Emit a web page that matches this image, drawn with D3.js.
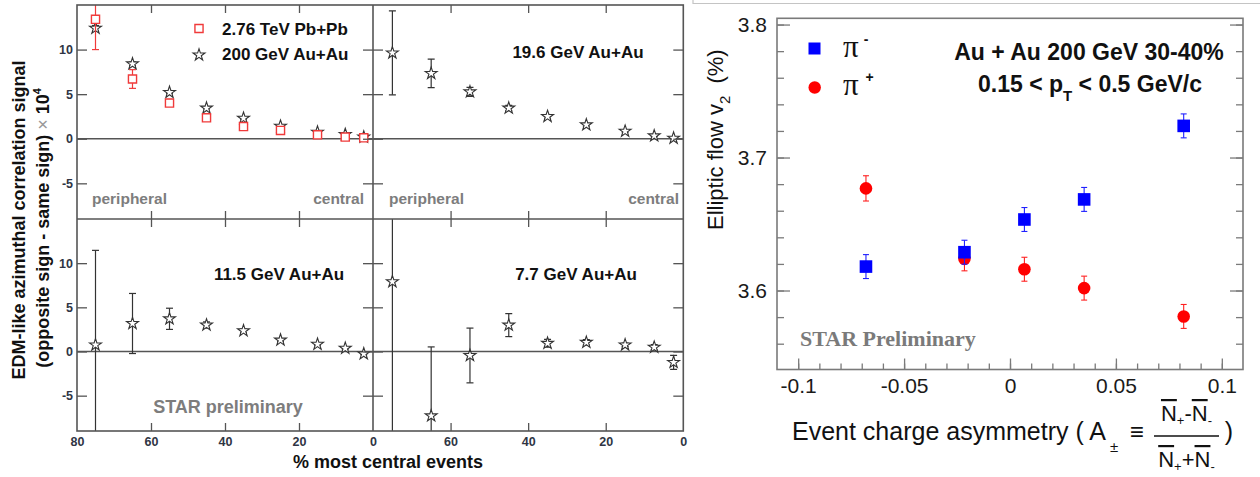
<!DOCTYPE html>
<html><head><meta charset="utf-8">
<script src="https://cdn.jsdelivr.net/npm/d3@7"></script>
<style>body{margin:0;background:#fff} svg{display:block} svg{font-family:"Liberation Sans",Arial,sans-serif}</style>
</head><body><svg id="c" width="1260" height="477"></svg>
<script>
// ---------- data: left figure (EDM-like correlation x 10^4 vs centrality) ----------
const centrality = [75, 65, 55, 45, 35, 25, 15, 7.5, 2.5];
const xTickLabelsLeft = [80, 60, 40, 20, 0];
const xTickLabelsRight = [60, 40, 20, 0];
const yTickLabels = [10, 5, 0, -5];

const pbpb276    = [13.4, 6.7, 4.0, 2.35, 1.37, 0.93, 0.44, 0.19, 0.11];
const pbpb276Err = [3.4, 1.05, 0.3, 0.3, 0.2, 0.15, 0.1, 0.1, 0.1];
const auau200    = [12.4, 8.4, 5.2, 3.44, 2.3, 1.41, 0.74, 0.48, 0.19];
const auau200Err = [0.3, 0.2, 0.15, 0.1, 0.1, 0.1, 0.1, 0.1, 0.1];
const auau196    = [9.63, 7.33, 5.26, 3.44, 2.5, 1.56, 0.85, 0.33, 0.07];
const auau196Err = [4.7, 1.6, 0.5, 0.3, 0.2, 0.15, 0.1, 0.1, 0.1];
const auau115    = [0.75, 3.17, 3.7, 3.0, 2.35, 1.3, 0.82, 0.37, -0.26];
const auau115Err = [10.7, 3.4, 1.2, 0.35, 0.2, 0.15, 0.1, 0.1, 0.1];
const auau77     = [7.9, -7.28, -0.45, 2.99, 0.93, 1.04, 0.75, 0.49, -1.23];
const auau77Err  = [20, 7.8, 3.1, 1.3, 0.45, 0.3, 0.2, 0.3, 0.8];

// ---------- data: right figure (v2 vs charge asymmetry) ----------
const asymmetry     = [-0.068, -0.0215, 0.0068, 0.035, 0.082];
const v2PiMinus     = [3.618, 3.6288, 3.6534, 3.6685, 3.7238];
const v2PiMinusErr  = [0.009, 0.009, 0.009, 0.009, 0.009];
const v2PiPlus      = [3.6768, 3.6238, 3.616, 3.6018, 3.5805];
const v2PiPlusErr   = [0.0095, 0.009, 0.009, 0.009, 0.009];
const xTicksMajorA  = [-0.1, -0.05, 0, 0.05, 0.1];
const yTicksMajorA  = [3.6, 3.7, 3.8];

const SANS = '"Liberation Sans",Arial,sans-serif';
const SERIF = '"Liberation Serif","Times New Roman",serif';
const svg = d3.select('#c');
svg.append('rect').attr('width',1260).attr('height',477).attr('fill','#fff');

const FR = '#555';
const xL = d3.scaleLinear().domain([80,0]).range([77,373]);
const xR = d3.scaleLinear().domain([80,0]).range([373,683.3]);
const yT = d3.scaleLinear().domain([-9,15]).range([219,5]);
const yB = d3.scaleLinear().domain([-9,15]).range([431,219]);

const starSym = d3.symbol().type(d3.symbolStar).size(44);
const sqSym = d3.symbol().type(d3.symbolSquare).size(66);

function styleAxis(g){
  g.select('.domain').remove();
  g.selectAll('.tick line').attr('stroke',FR).attr('stroke-width',1.3);
  g.selectAll('.tick text').attr('fill','#2f3544').attr('font-weight','bold').attr('font-size',12.5)
   .style('font-family',SANS);
}

const panels = [
  {id:'tl', x:xL, y:yT, series:[{v:auau200,e:auau200Err,t:'star'},{v:pbpb276,e:pbpb276Err,t:'sq'}]},
  {id:'tr', x:xR, y:yT, series:[{v:auau196,e:auau196Err,t:'star'}]},
  {id:'bl', x:xL, y:yB, series:[{v:auau115,e:auau115Err,t:'star'}]},
  {id:'br', x:xR, y:yB, series:[{v:auau77,e:auau77Err,t:'star'}]},
];

panels.forEach(p=>{
  const [x0,x1]=p.x.range(); const [yb,yt]=p.y.range();
  const cid='clip-'+p.id;
  svg.append('clipPath').attr('id',cid).append('rect').attr('x',x0).attr('y',yt).attr('width',x1-x0).attr('height',yb-yt);
  const g = svg.append('g').attr('clip-path',`url(#${cid})`);
  g.append('line').attr('x1',x0).attr('x2',x1).attr('y1',p.y(0)).attr('y2',p.y(0)).attr('stroke',FR).attr('stroke-width',1.3);
  p.series.forEach(s=>{
    const col = s.t==='sq' ? '#f03a3a' : '#333';
    centrality.forEach((c,i)=>{
      const xx=p.x(c), lo=p.y(s.v[i]-s.e[i]), hi=p.y(s.v[i]+s.e[i]);
      g.append('line').attr('x1',xx).attr('x2',xx).attr('y1',lo).attr('y2',hi).attr('stroke',col).attr('stroke-width',1.2);
      [lo,hi].forEach(yy=>g.append('line').attr('x1',xx-3.5).attr('x2',xx+3.5).attr('y1',yy).attr('y2',yy).attr('stroke',col).attr('stroke-width',1.2));
    });
    g.selectAll(null).data(centrality).enter().append('path')
      .attr('d', s.t==='sq'? sqSym : starSym)
      .attr('transform',(c,i)=>`translate(${p.x(c)},${p.y(s.v[i])})`)
      .attr('fill','#fff').attr('stroke',col).attr('stroke-width', s.t==='sq'?1.4:1.1);
  });
  const isLeft = p.x===xL;
  styleAxis(svg.append('g').attr('transform',`translate(0,${yb})`).call(d3.axisBottom(p.x).tickValues([60,40,20]).tickSize(-8).tickFormat('')));
  styleAxis(svg.append('g').attr('transform',`translate(0,${yt})`).call(d3.axisTop(p.x).tickValues([60,40,20]).tickSize(-8).tickFormat('')));
  styleAxis(svg.append('g').attr('transform',`translate(${x0},0)`).call(d3.axisLeft(p.y).tickValues(yTickLabels).tickSize(-10).tickPadding(4)
     .tickFormat(isLeft? (d=>String(d)) : '')));
  styleAxis(svg.append('g').attr('transform',`translate(${x1},0)`).call(d3.axisRight(p.y).tickValues(yTickLabels).tickSize(-10).tickFormat('')));
});
styleAxis(svg.append('g').attr('transform','translate(0,431)').call(d3.axisBottom(xL).tickValues(xTickLabelsLeft).tickSize(0).tickPadding(6).tickFormat(d=>String(d))));
styleAxis(svg.append('g').attr('transform','translate(0,431)').call(d3.axisBottom(xR).tickValues(xTickLabelsRight).tickSize(0).tickPadding(6).tickFormat(d=>String(d))));

svg.append('rect').attr('x',77).attr('y',5).attr('width',683.3-77).attr('height',426).attr('fill','none').attr('stroke',FR).attr('stroke-width',1.6);
svg.append('line').attr('x1',373).attr('x2',373).attr('y1',5).attr('y2',431).attr('stroke',FR).attr('stroke-width',1.6);
svg.append('line').attr('x1',77).attr('x2',683.3).attr('y1',219).attr('y2',219).attr('stroke',FR).attr('stroke-width',1.6);

const gray='#7d7d7d';
function txt(x,y,s,size,opts={}){
  return svg.append('text').attr('x',x).attr('y',y).attr('font-size',size)
    .attr('font-weight',opts.w||'bold').attr('fill',opts.c||'#111').attr('text-anchor',opts.a||'start')
    .style('font-family',opts.f||SANS).text(s);
}
txt(92,204,'peripheral',15.5,{c:gray});
txt(364,204,'central',15.5,{c:gray,a:'end'});
txt(389,204,'peripheral',15.5,{c:gray});
txt(679,204,'central',15.5,{c:gray,a:'end'});
txt(222,35,'2.76 TeV Pb+Pb',17);
txt(222,60,'200 GeV Au+Au',17);
svg.append('path').attr('d',sqSym).attr('transform','translate(199,28.5)').attr('fill','#fff').attr('stroke','#f03a3a').attr('stroke-width',1.4);
svg.append('path').attr('d',starSym).attr('transform','translate(199,55)').attr('fill','#fff').attr('stroke','#333').attr('stroke-width',1.1);
txt(578,58,'19.6 GeV Au+Au',17,{a:'middle'});
txt(279,280,'11.5 GeV Au+Au',17,{a:'middle'});
txt(576,280,'7.7 GeV Au+Au',17,{a:'middle'});
txt(228,413,'STAR preliminary',18,{c:gray,a:'middle'});
txt(388,468,'% most central events',18,{a:'middle'});

const yl1 = svg.append('text').attr('transform','translate(25,220) rotate(-90)').attr('text-anchor','middle')
  .attr('font-size',18).attr('font-weight','bold').attr('fill','#111').text('EDM-like azimuthal correlation signal');
const yl2 = svg.append('text').attr('transform','translate(49,228) rotate(-90)').attr('text-anchor','middle')
  .attr('font-size',18).attr('font-weight','bold').attr('fill','#111');
yl2.append('tspan').text('(opposite sign - same sign) ');
yl2.append('tspan').attr('font-weight','normal').attr('fill','#999').text('×');
yl2.append('tspan').text(' 10');
yl2.append('tspan').attr('font-size',11).attr('dy',-8).text('4');

// ---------- right figure ----------
svg.append('path').attr('d','M693,0 V3.5 H1260').attr('fill','none').attr('stroke','#c4c4c4').attr('stroke-width',1.2);

const xA = d3.scaleLinear().domain([-0.11,0.11]).range([777,1243]);
const yA = d3.scaleLinear().domain([3.5406,3.8047]).range([369.5,18.3]);
const AG = '#7a7a7a';
function styleA(g){
  g.select('.domain').remove();
  g.selectAll('.tick line').attr('stroke',AG).attr('stroke-width',1.3);
  g.selectAll('.tick text').attr('fill','#1a1a1a').attr('font-size',21).style('font-family',SANS);
}
const minorX = d3.range(-10,11).map(d=>d/100);
const minorY = d3.range(28,41).map(d=>d*0.02+3.0);
styleA(svg.append('g').attr('transform','translate(0,369.5)').call(d3.axisBottom(xA).tickValues(minorX).tickSize(-6).tickFormat('')));
styleA(svg.append('g').attr('transform','translate(0,369.5)').call(d3.axisBottom(xA).tickValues(xTicksMajorA).tickSize(-11).tickPadding(9)
   .tickFormat(d=>d===0?'0':String(d))));
styleA(svg.append('g').attr('transform','translate(777,0)').call(d3.axisLeft(yA).tickValues(minorY).tickSize(-7).tickFormat('')));
styleA(svg.append('g').attr('transform','translate(777,0)').call(d3.axisLeft(yA).tickValues(yTicksMajorA).tickSize(-13).tickPadding(10)
   .tickFormat(d3.format('.1f'))));
styleA(svg.append('g').attr('transform','translate(1243,0)').call(d3.axisRight(yA).tickValues(minorY).tickSize(-7).tickFormat('')));
styleA(svg.append('g').attr('transform','translate(1243,0)').call(d3.axisRight(yA).tickValues(yTicksMajorA).tickSize(-13).tickFormat('')));
svg.append('rect').attr('x',777).attr('y',18.3).attr('width',1243-777).attr('height',369.5-18.3).attr('fill','none').attr('stroke',AG).attr('stroke-width',1.6);

function errBars(vals, errs, col){
  asymmetry.forEach((a,i)=>{
    const xx=xA(a), lo=yA(vals[i]-errs[i]), hi=yA(vals[i]+errs[i]);
    svg.append('line').attr('x1',xx).attr('x2',xx).attr('y1',lo).attr('y2',hi).attr('stroke',col).attr('stroke-width',1.1);
    [lo,hi].forEach(yy=>svg.append('line').attr('x1',xx-3).attr('x2',xx+3).attr('y1',yy).attr('y2',yy).attr('stroke',col).attr('stroke-width',1.1));
  });
}
errBars(v2PiPlus, v2PiPlusErr, '#ff2020');
svg.selectAll(null).data(asymmetry).enter().append('circle')
  .attr('cx',d=>xA(d)).attr('cy',(d,i)=>yA(v2PiPlus[i])).attr('r',6.3).attr('fill','#ff0000');
errBars(v2PiMinus, v2PiMinusErr, '#2020ff');
svg.selectAll(null).data(asymmetry).enter().append('rect')
  .attr('x',d=>xA(d)-6.3).attr('y',(d,i)=>yA(v2PiMinus[i])-6.3).attr('width',12.6).attr('height',12.6).attr('fill','#0000ff');

// legend
svg.append('rect').attr('x',808.5).attr('y',42.5).attr('width',12).attr('height',12).attr('fill','#0000ff');
svg.append('circle').attr('cx',814.7).attr('cy',87.5).attr('r',6.2).attr('fill','#ff0000');
txt(843,57,'π',31,{w:'normal',f:SERIF});
txt(866,44,'-',14,{a:'middle'});
txt(843,95,'π',31,{w:'normal',f:SERIF});
txt(869.5,82,'+',14,{a:'middle'});

txt(1089,60,'Au + Au 200 GeV 30-40%',23,{a:'middle'});
const st = svg.append('text').attr('x',1090).attr('y',92).attr('font-size',23).attr('font-weight','bold').attr('text-anchor','middle').attr('fill','#111');
st.append('tspan').text('0.15 < p');
st.append('tspan').attr('font-size',15).attr('dy',9).text('T');
st.append('tspan').attr('dy',-9).text(' < 0.5 GeV/c');

txt(800,346,'STAR Preliminary',22,{c:'#7a7a7a',f:SERIF});

const yA_t = svg.append('text').attr('transform','translate(723,230) rotate(-90)').attr('font-size',22).attr('fill','#111');
yA_t.append('tspan').text('Elliptic flow v');
yA_t.append('tspan').attr('font-size',15).attr('dy',7).text('2');
yA_t.append('tspan').attr('dy',-7).attr('dx',6).text(' (%)');

// x title with fraction
svg.append('text').attr('x',1106).attr('y',440).attr('text-anchor','end').attr('font-size',25).attr('fill','#111').text('Event charge asymmetry ( A');
svg.append('text').attr('x',1114).attr('y',452).attr('text-anchor','middle').attr('font-size',15).attr('fill','#111').text('±');
svg.append('text').attr('x',1137).attr('y',440).attr('text-anchor','middle').attr('font-size',24).attr('fill','#111').text('≡');
svg.append('line').attr('x1',1154).attr('x2',1219).attr('y1',436).attr('y2',436).attr('stroke','#111').attr('stroke-width',1.3);
function fracPart(y, op){
  const t = svg.append('text').attr('x',1186.5).attr('y',y).attr('text-anchor','middle').attr('font-size',22).attr('fill','#111');
  t.append('tspan').style('text-decoration','overline').text('N');
  t.append('tspan').attr('font-size',13).attr('dy',4).text('+');
  t.append('tspan').attr('dy',-4).text(op);
  t.append('tspan').style('text-decoration','overline').text('N');
  t.append('tspan').attr('font-size',13).attr('dy',4).text('-');
}
fracPart(421,'-');
fracPart(467,'+');
svg.append('text').attr('x',1229).attr('y',440).attr('text-anchor','middle').attr('font-size',25).attr('fill','#111').text(')');
</script></body></html>
